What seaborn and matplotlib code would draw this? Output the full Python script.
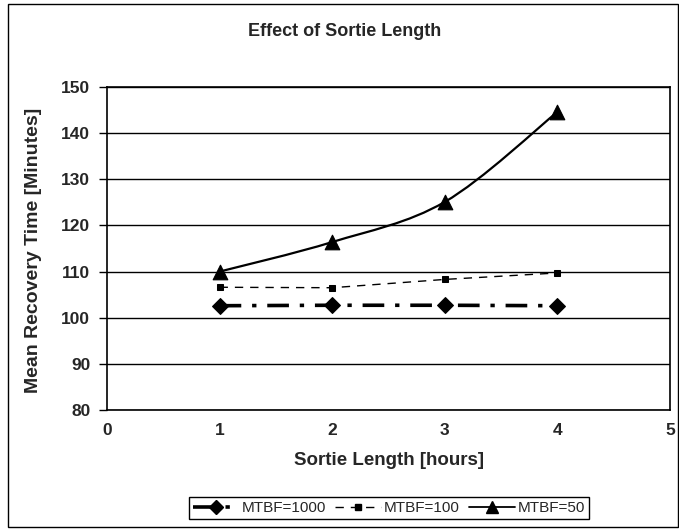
import numpy as np
import pandas as pd
import seaborn as sns
import matplotlib
matplotlib.use("Agg")
import matplotlib.pyplot as plt
from matplotlib.path import Path
from matplotlib.patches import PathPatch, Rectangle
from matplotlib.lines import Line2D

# ---- data ----
sortie_hours = [1, 2, 3, 4]
mtbf_1000 = [102.6, 102.7, 102.7, 102.6]
mtbf_100 = [106.6, 106.5, 108.3, 109.7]
mtbf_50 = [110.0, 116.4, 125.1, 144.6]
series_labels = ["MTBF=1000", "MTBF=100", "MTBF=50"]
x_ticks = [0, 1, 2, 3, 4, 5]
y_ticks = [80, 90, 100, 110, 120, 130, 140, 150]
title = "Effect of Sortie Length"
x_label = "Sortie Length [hours]"
y_label = "Mean Recovery Time [Minutes]"

sns.set_theme(style="white")
plt.rcParams['font.family'] = ['Liberation Sans', 'DejaVu Sans']

fig = plt.figure(figsize=(6.79, 5.29), dpi=100)
ax = fig.add_axes([107 / 679, 1 - 410 / 529, (670 - 107) / 679, (410 - 87) / 529])

df = pd.DataFrame({"x": sortie_hours, "a": mtbf_1000, "b": mtbf_100, "c": mtbf_50})

ls_1000 = (0, (6, 3, 1.2, 3))
ls_100 = (0, (6, 5))

# MTBF=1000 : dash-dot thick with diamonds
sns.lineplot(data=df, x="x", y="a", ax=ax, color="black", linewidth=2.6,
             marker="D", markersize=8, markeredgecolor="black",
             linestyle=ls_1000)
# MTBF=100 : thin dashed with small squares
sns.lineplot(data=df, x="x", y="b", ax=ax, color="black", linewidth=1.0,
             marker="s", markersize=5, markeredgecolor="black",
             linestyle=ls_100)
# MTBF=50 : smooth solid line with triangles
sns.scatterplot(data=df, x="x", y="c", ax=ax, color="black", marker="^",
                s=110, edgecolor="black", zorder=5)

# smoothed (Catmull-Rom -> Bezier) path through MTBF=50 points
px = np.array(sortie_hours, dtype=float)
py = np.array(mtbf_50, dtype=float)
P = np.column_stack([px, py])
verts = [tuple(P[0])]
codes = [Path.MOVETO]
n = len(P)
for i in range(n - 1):
    p0 = P[max(i - 1, 0)]
    p1 = P[i]
    p2 = P[i + 1]
    p3 = P[min(i + 2, n - 1)]
    c1 = p1 + (p2 - p0) / 6.0
    c2 = p2 - (p3 - p1) / 6.0
    verts += [tuple(c1), tuple(c2), tuple(p2)]
    codes += [Path.CURVE4] * 3
ax.add_patch(PathPatch(Path(verts, codes), fill=False, edgecolor="black",
                       linewidth=1.6, transform=ax.transData, zorder=4))

ax.set_xlim(0, 5)
ax.set_ylim(80, 150)
ax.set_xticks(x_ticks)
ax.set_yticks(y_ticks)
ax.set_xticklabels([str(t) for t in x_ticks], fontsize=12.5, fontweight="bold")
ax.set_yticklabels([str(t) for t in y_ticks], fontsize=12.5, fontweight="bold")
ax.grid(axis="y", color="black", linewidth=1.0)
ax.grid(axis="x", visible=False)
ax.set_axisbelow(True)
for sp in ax.spines.values():
    sp.set_color("black")
    sp.set_linewidth(1.2)
ax.tick_params(axis="y", which="major", direction="out", length=6, width=1,
               color="black", left=True, pad=6)
ax.tick_params(axis="x", which="major", length=0, pad=9.5)

ax.set_xlabel(x_label, fontsize=13.5, fontweight="bold")
ax.set_ylabel(y_label, fontsize=14, fontweight="bold")
ax.xaxis.set_label_coords(0.5, (410 - 452) / 323)
ax.yaxis.set_label_coords((42 - 107) / 563, (410 - 250) / 323)
fig.text(345 / 679, 1 - 32 / 529, title, ha="center", va="center",
         fontsize=13, fontweight="bold")

handles = [
    Line2D([], [], color="black", linewidth=2.6, linestyle=ls_1000,
           marker="D", markersize=7),
    Line2D([], [], color="black", linewidth=1.0, linestyle=ls_100,
           marker="s", markersize=4.5),
    Line2D([], [], color="black", linewidth=1.3, linestyle="-",
           marker="^", markersize=8),
]
leg = fig.legend(handles, series_labels, loc="center",
                 bbox_to_anchor=(389 / 679, 1 - 508 / 529), ncol=3,
                 frameon=True, fancybox=False, edgecolor="black",
                 framealpha=1, fontsize=11, handlelength=3.0,
                 columnspacing=0.6, handletextpad=0.2, borderpad=0.25,
                 numpoints=1)
leg.get_frame().set_linewidth(1.0)

fig.add_artist(Rectangle((8 / 679, 1 - 527 / 529), (678 - 8) / 679, (527 - 4) / 529,
                         transform=fig.transFigure, fill=False,
                         edgecolor="black", linewidth=1.0))

fig.savefig("out.png", dpi=100)
